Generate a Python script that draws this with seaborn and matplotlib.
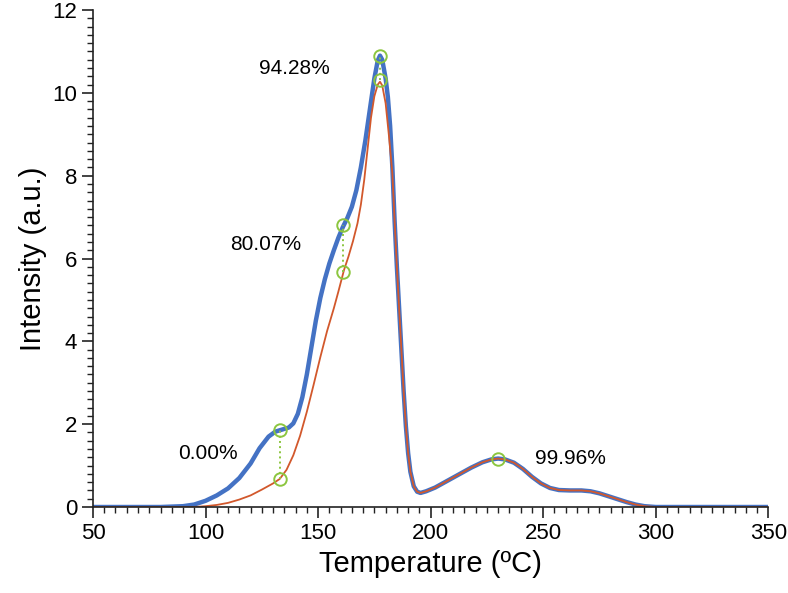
import matplotlib
matplotlib.use("Agg")
import matplotlib.pyplot as plt
import seaborn as sns
import pandas as pd
from matplotlib.ticker import MultipleLocator

sns.set_style("ticks")
plt.rcParams['font.family'] = ['Liberation Sans', 'DejaVu Sans']
plt.rcParams['text.color'] = 'black'
plt.rcParams['axes.labelcolor'] = 'black'

# ---- data ----
temp_blue = [50, 80, 90, 95, 100, 105, 110, 115, 120, 124, 128, 131, 134, 137, 139, 141, 143, 145,
             147, 149, 151, 153, 155, 157, 159, 161, 163, 165, 167, 169, 171, 173, 175, 176.5, 177.5,
             178.5, 180, 181, 182, 183, 184, 185, 186, 187, 188, 189, 190, 191, 192.5, 194, 195.5, 198,
             202, 207, 212, 218, 223, 227, 230, 233, 237, 241, 245, 249, 253, 257, 262, 267, 271,
             275, 279, 283, 287, 291, 295, 300, 350]
int_blue = [0, 0, 0.02, 0.06, 0.15, 0.28, 0.45, 0.7, 1.05, 1.42, 1.7, 1.82, 1.87, 1.92, 2.02, 2.25, 2.65, 3.2,
            3.85, 4.5, 5.05, 5.5, 5.88, 6.2, 6.5, 6.76, 6.98, 7.25, 7.65, 8.2, 8.85, 9.6, 10.35, 10.78, 10.9,
            10.8, 10.35, 9.9, 9.2, 8.2, 6.9, 5.8, 4.8, 3.8, 2.8, 1.95, 1.3, 0.85, 0.5, 0.37, 0.34, 0.38,
            0.47, 0.62, 0.77, 0.95, 1.08, 1.15, 1.17, 1.15, 1.07, 0.92, 0.73, 0.57, 0.46, 0.41, 0.4, 0.4, 0.38,
            0.33, 0.26, 0.19, 0.12, 0.06, 0.02, 0, 0]

temp_orange = [50, 95, 100, 105, 110, 115, 120, 125, 130, 133, 136, 139, 142, 145, 148, 151, 154, 157,
               159, 161.5, 163.5, 165.5, 167.5, 169, 170.5, 172, 173.5, 175, 176.5, 177.5, 178.5, 180,
               181.5, 183, 184,
               185, 186, 187, 188, 189, 190, 191, 192.5, 194, 195.5, 198,
               202, 207, 212, 218, 223, 227, 230, 233, 237, 241, 245, 249, 253, 257, 262, 267, 271,
               275, 279, 283, 287, 291, 295, 300, 350]
int_orange = [0, 0, 0.02, 0.05, 0.1, 0.18, 0.28, 0.42, 0.57, 0.68, 0.9, 1.25, 1.72, 2.3, 2.95, 3.62, 4.25, 4.8,
              5.2, 5.72, 6.05, 6.42, 6.85, 7.3, 7.9, 8.65, 9.4, 9.92, 10.2, 10.27, 10.18, 9.75,
              8.95, 8.05, 6.9,
              5.8, 4.8, 3.8, 2.8, 1.95, 1.3, 0.85, 0.5, 0.37, 0.34, 0.38,
              0.47, 0.62, 0.77, 0.95, 1.08, 1.15, 1.17, 1.15, 1.07, 0.92, 0.73, 0.57, 0.46, 0.41, 0.4, 0.4, 0.38,
              0.33, 0.26, 0.19, 0.12, 0.06, 0.02, 0, 0]

# marked points: temperature, upper (blue) and lower (orange) intensity
mark_temp = [133, 161, 177.5, 230]
mark_top = [1.87, 6.8, 10.9, 1.17]
mark_bottom = [0.68, 5.68, 10.3, 1.17]

labels = ["0.00%", "80.07%", "94.28%", "99.96%"]
label_x = [101, 126.5, 139.3, 262]
label_y = [1.3, 6.33, 10.6, 1.18]

BLUE = "#4472c4"
ORANGE = "#d2582c"
GREEN = "#8cc63f"

df_blue = pd.DataFrame({"T": temp_blue, "I": int_blue})
df_orange = pd.DataFrame({"T": temp_orange, "I": int_orange})

fig, ax = plt.subplots(figsize=(7.88, 5.93), dpi=100)
fig.subplots_adjust(left=0.118, right=0.975, bottom=0.145, top=0.983)

sns.lineplot(data=df_blue, x="T", y="I", ax=ax, color=BLUE, lw=3.2, sort=False, estimator=None)
sns.lineplot(data=df_orange, x="T", y="I", ax=ax, color=ORANGE, lw=1.3, sort=False, estimator=None)

# dotted connectors + circles
for t, top, bot in zip(mark_temp, mark_top, mark_bottom):
    if top != bot:
        ax.plot([t, t], [bot, top], ls=":", color=GREEN, lw=1.4)
ax.plot(mark_temp, mark_top, "o", mfc="none", mec=GREEN, ms=9, mew=1.4)
ax.plot(mark_temp[:3], mark_bottom[:3], "o", mfc="none", mec=GREEN, ms=9, mew=1.4)

for txt, x, y in zip(labels, label_x, label_y):
    ax.text(x, y, txt, ha="center", va="center", fontsize=15)

ax.set_xlim(50, 350)
ax.set_ylim(0, 12)
ax.xaxis.set_major_locator(MultipleLocator(50))
ax.xaxis.set_minor_locator(MultipleLocator(5))
ax.yaxis.set_major_locator(MultipleLocator(2))
ax.yaxis.set_minor_locator(MultipleLocator(0.2))
ax.tick_params(which="major", direction="out", length=8, width=1.2, labelsize=16,
               color="#222222", labelcolor="black")
ax.tick_params(which="minor", direction="out", length=4.5, width=1.0, color="#222222")
ax.set_xlabel("Temperature (ºC)", fontsize=21)
ax.set_ylabel("Intensity (a.u.)", fontsize=21)
sns.despine(ax=ax)
for s in ["left", "bottom"]:
    ax.spines[s].set_linewidth(1.2)
    ax.spines[s].set_color("#222222")

plt.savefig("out.png", dpi=100)
